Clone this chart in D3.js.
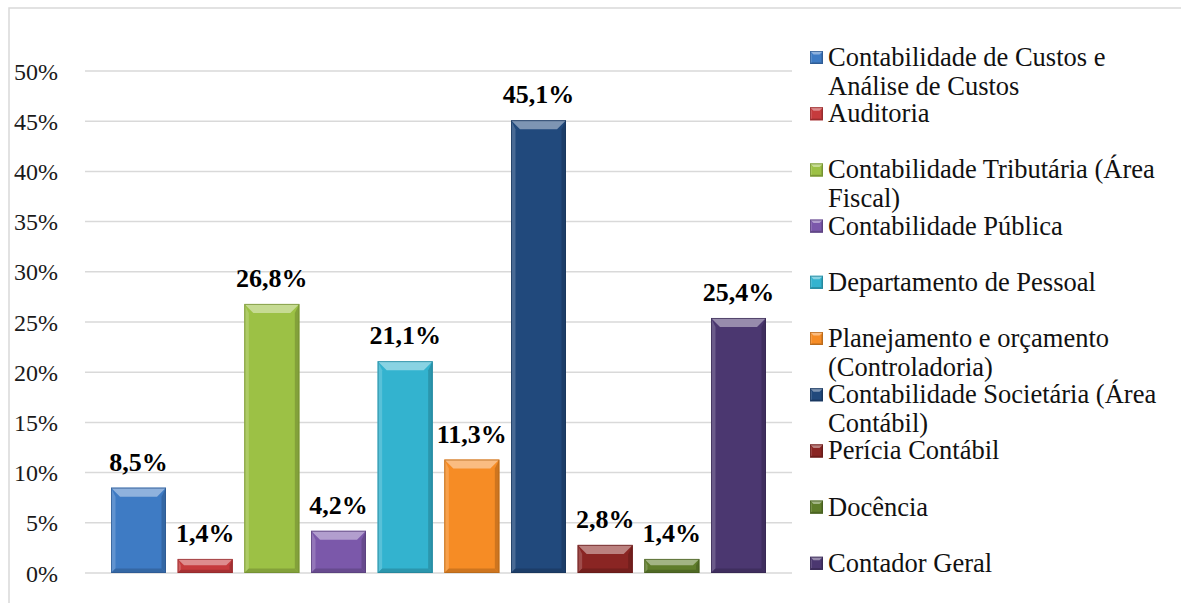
<!DOCTYPE html>
<html>
<head>
<meta charset="utf-8">
<script src="https://cdn.jsdelivr.net/npm/d3@7"></script>
<style>
  html, body { margin: 0; padding: 0; background: #fff; }
  svg { display: block; }
  svg text { font-family: "Liberation Serif", Tinos, "Times New Roman", Times, "DejaVu Serif", serif; }
</style>
</head>
<body>
<svg id="chart" width="1181" height="603"></svg>
<script>
// Áreas de atuação e percentuais
const categories = [
  "Contabilidade de Custos e Análise de Custos",
  "Auditoria",
  "Contabilidade Tributária (Área Fiscal)",
  "Contabilidade Pública",
  "Departamento de Pessoal",
  "Planejamento e orçamento (Controladoria)",
  "Contabilidade Societária (Área Contábil)",
  "Perícia Contábil",
  "Docência",
  "Contador Geral"
];
const values = [8.5, 1.4, 26.8, 4.2, 21.1, 11.3, 45.1, 2.8, 1.4, 25.4];
const valueLabels = ["8,5%", "1,4%", "26,8%", "4,2%", "21,1%", "11,3%", "45,1%", "2,8%", "1,4%", "25,4%"];
const legendLines = [
  ["Contabilidade de Custos e", "Análise de Custos"],
  ["Auditoria"],
  ["Contabilidade Tributária (Área", "Fiscal)"],
  ["Contabilidade Pública"],
  ["Departamento de Pessoal"],
  ["Planejamento e orçamento", "(Controladoria)"],
  ["Contabilidade Societária (Área", "Contábil)"],
  ["Perícia Contábil"],
  ["Docência"],
  ["Contador Geral"]
];
const colors = ["#3e7bc4", "#c63b3d", "#9cc145", "#7b58aa", "#33b3cf", "#f68c25", "#21497c", "#8a2523", "#5f7d2b", "#4b3770"];
const yTicks = [0, 5, 10, 15, 20, 25, 30, 35, 40, 45, 50];

const svg = d3.select("#chart");

// chart frame
svg.append("rect")
  .attr("x", 9).attr("y", 8).attr("width", 1200).attr("height", 620)
  .attr("fill", "none").attr("stroke", "#d9d9d9").attr("stroke-width", 1.5);

const x = d3.scaleBand().domain(categories).range([85, 792]).paddingInner(0.175).paddingOuter(0.39);
const y = d3.scaleLinear().domain([0, 50]).range([573, 71]);

// gridlines
svg.append("g").selectAll("line").data(yTicks).join("line")
  .attr("x1", 85).attr("x2", 792)
  .attr("y1", d => y(d)).attr("y2", d => y(d))
  .attr("stroke", "#d9d9d9").attr("stroke-width", 1.5);

// y axis labels
const yAxis = d3.axisLeft(y).tickValues(yTicks).tickSize(0).tickPadding(0)
  .tickFormat(d => d + "%");
const ya = svg.append("g").attr("transform", "translate(58,0)").call(yAxis)
  .attr("font-family", null).attr("font-size", null);
ya.select(".domain").remove();
ya.selectAll("text")
  .style("font-size", "24px").attr("fill", "#1a1a1a")
  .attr("dy", "0.34em");

// bevelled bar shape
function bevel(g, x0, y0, w, h, color, b) {
  const c = d3.color(color);
  const light = d3.interpolateRgb(color, "#ffffff")(0.42);
  const lighter = d3.interpolateRgb(color, "#ffffff")(0.18);
  const dark = c.darker(0.5).formatHex();
  const darker = c.darker(0.9).formatHex();
  const x1 = x0 + w, y1 = y0 + h;
  const bb = Math.min(b, h / 2.2, w / 2.2);
  const pts = (arr) => arr.map(p => p.join(",")).join(" ");
  g.append("rect").attr("x", x0).attr("y", y0).attr("width", w).attr("height", h).attr("fill", color);
  g.append("polygon").attr("points", pts([[x0, y0], [x1, y0], [x1 - bb, y0 + bb], [x0 + bb, y0 + bb]])).attr("fill", light);
  g.append("polygon").attr("points", pts([[x0, y0], [x0 + bb * 0.5, y0 + bb], [x0 + bb * 0.5, y1 - bb * 0.5], [x0, y1]])).attr("fill", lighter);
  g.append("polygon").attr("points", pts([[x1, y0], [x1 - bb * 0.5, y0 + bb], [x1 - bb * 0.5, y1 - bb * 0.5], [x1, y1]])).attr("fill", dark);
  g.append("polygon").attr("points", pts([[x0, y1], [x0 + bb * 0.5, y1 - bb * 0.5], [x1 - bb * 0.5, y1 - bb * 0.5], [x1, y1]])).attr("fill", dark);
  g.append("rect").attr("x", x0 + 0.5).attr("y", y0 + 0.5).attr("width", w - 1).attr("height", h - 1)
    .attr("fill", "none").attr("stroke", darker).attr("stroke-width", 1).attr("stroke-opacity", 0.7);
}

const bars = svg.append("g");
categories.forEach((cat, i) => {
  const g = bars.append("g");
  bevel(g, x(cat), y(values[i]), x.bandwidth(), y(0) - y(values[i]), colors[i], 9);
});

// value labels
svg.append("g").selectAll("text").data(categories).join("text")
  .attr("x", d => x(d) + x.bandwidth() / 2)
  .attr("y", (d, i) => y(values[i]) - 17)
  .attr("text-anchor", "middle")
  .style("font-size", "26px").style("font-weight", "bold")
  .attr("fill", "#000")
  .text((d, i) => valueLabels[i]);

// legend
const legend = svg.append("g");
legendLines.forEach((lines, i) => {
  const base = 66 + i * 56.2;
  const g = legend.append("g");
  bevel(g, 810, base - 15, 13, 13, colors[i], 3.5);
  const t = g.append("text")
    .style("font-size", "26.5px").attr("fill", "#111");
  lines.forEach((ln, j) => {
    t.append("tspan").attr("x", 828).attr("y", base + j * 28.5).text(ln);
  });
});
</script>
</body>
</html>
